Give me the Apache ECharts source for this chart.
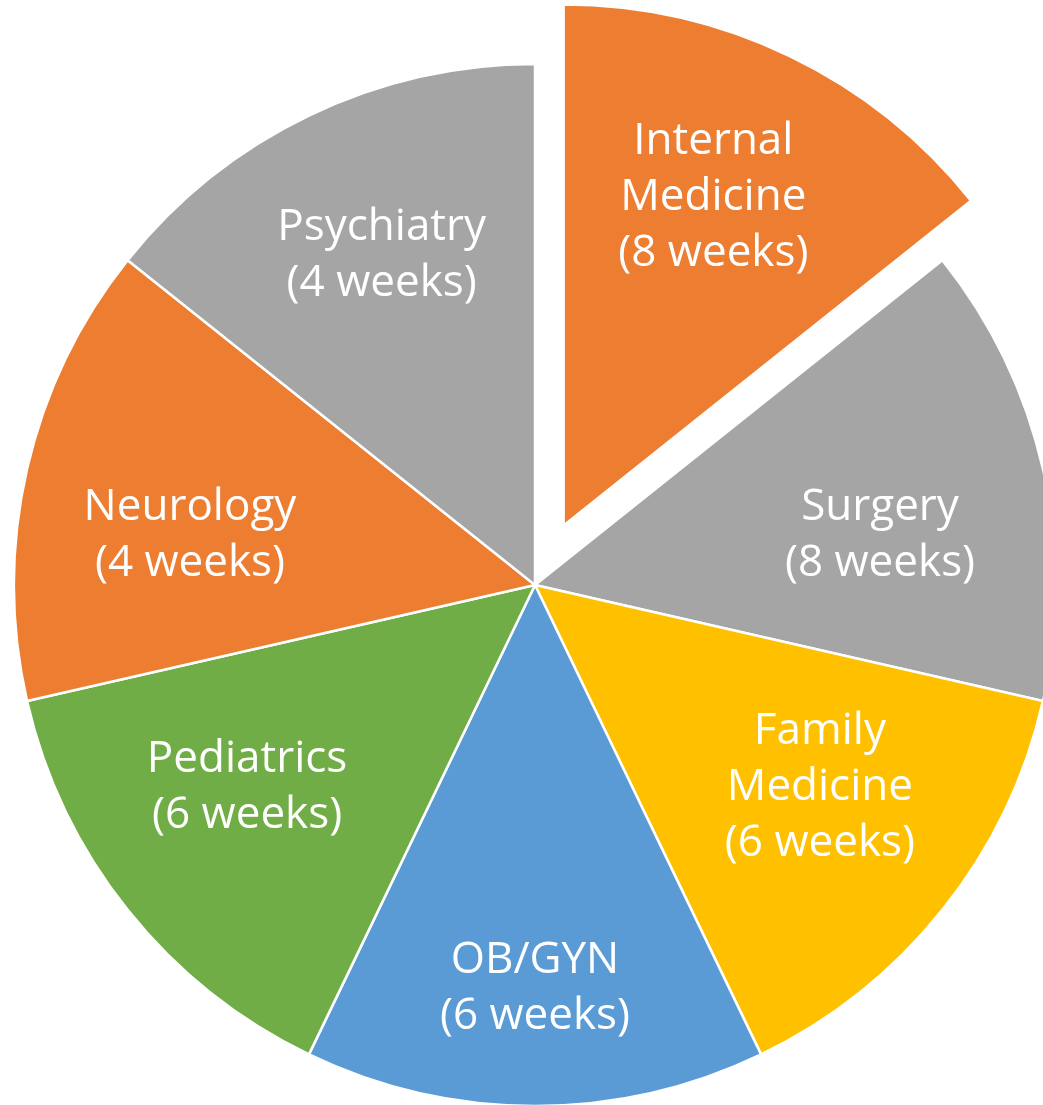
<!DOCTYPE html>
<html>
<head>
<meta charset="utf-8">
<script src="https://cdn.jsdelivr.net/npm/echarts@6/dist/echarts.min.js"></script>
<style>
html,body{margin:0;padding:0;background:#fff;}
#chart{width:1043px;height:1105px;}
</style>
</head>
<body>
<div id="chart"></div>
<script>
// Clerkship rotations, clockwise from 12 o'clock
const rotations = ['Internal\nMedicine', 'Surgery', 'Family\nMedicine', 'OB/GYN', 'Pediatrics', 'Neurology', 'Psychiatry'];
const weeks = [8, 8, 6, 6, 6, 4, 4];
// slices in the picture are drawn equal in size
const sliceShare = [1, 1, 1, 1, 1, 1, 1];
const explodedSlice = 'Internal\nMedicine';

const colors = ['#ED7D31', '#A5A5A5', '#FFC000', '#5B9BD5', '#70AD47', '#ED7D31', '#A5A5A5'];
const labelNudge = [[23, -65], [-4, 30], [5, -21], [0, 45], [-8, -21], [4, 30], [2, -7]];

const chart = echarts.init(document.getElementById('chart'), null, {renderer: 'canvas'});

const pieData = rotations.map((n, i) => ({
  name: n,
  value: sliceShare[i],
  selected: n === explodedSlice,
  itemStyle: {color: colors[i]}
}));
const labelData = rotations.map((n, i) => ({
  name: n,
  value: sliceShare[i],
  label: {offset: labelNudge[i]}
}));

chart.setOption({
  animation: false,
  backgroundColor: '#ffffff',
  series: [
    {
      type: 'pie',
      center: [535, 585],
      radius: [0, 521],
      startAngle: 90,
      clockwise: true,
      selectedMode: 'single',
      selectedOffset: 66,
      silent: true,
      itemStyle: {borderColor: '#ffffff', borderWidth: 2.5},
      label: {show: false},
      labelLine: {show: false},
      emphasis: {disabled: true},
      data: pieData
    },
    {
      type: 'pie',
      center: [535, 585],
      radius: [200, 510],
      startAngle: 90,
      clockwise: true,
      silent: true,
      itemStyle: {color: 'rgba(0,0,0,0)', borderWidth: 0},
      label: {
        show: true,
        position: 'inside',
        color: '#ffffff',
        fontFamily: 'Open Sans',
        fontSize: 44,
        lineHeight: 56,
        align: 'center',
        formatter: p => p.name + '\n(' + weeks[p.dataIndex] + ' weeks)'
      },
      labelLine: {show: false},
      emphasis: {disabled: true},
      data: labelData
    }
  ]
});
</script>
</body>
</html>
